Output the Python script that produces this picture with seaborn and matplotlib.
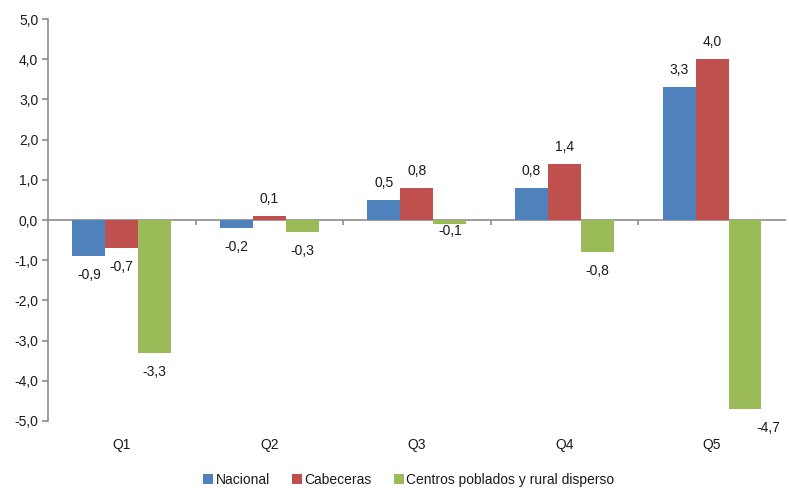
import matplotlib
matplotlib.use("Agg")
import matplotlib.pyplot as plt
import matplotlib.ticker as mticker
from matplotlib.patches import Patch
import seaborn as sns
import pandas as pd

categories = ["Q1", "Q2", "Q3", "Q4", "Q5"]
series_names = ["Nacional", "Cabeceras", "Centros poblados y rural disperso"]
nacional = [-0.9, -0.2, 0.5, 0.8, 3.3]
cabeceras = [-0.7, 0.1, 0.8, 1.4, 4.0]
rural = [-3.3, -0.3, -0.1, -0.8, -4.7]
yticks = [-5, -4, -3, -2, -1, 0, 1, 2, 3, 4, 5]

colors = ["#4F81BD", "#C0504D", "#9BBB59"]

rows = []
for name, vals in zip(series_names, [nacional, cabeceras, rural]):
    for c, v in zip(categories, vals):
        rows.append({"Quintil": c, "Serie": name, "Valor": v})
df = pd.DataFrame(rows)

sns.set_theme(style="white")
plt.rcParams["font.family"] = ["Liberation Sans", "DejaVu Sans"]
text_color = "#1a1a1a"
axis_color = "#8c8c8c"

fig = plt.figure(figsize=(7.89, 4.88), dpi=100)
ax = fig.add_axes([0.0608, 0.1373, 0.9352, 0.8237])

sns.barplot(data=df, x="Quintil", y="Valor", hue="Serie", order=categories,
            hue_order=series_names, palette=colors, width=0.67, ax=ax,
            saturation=1, legend=False, errorbar=None, linewidth=0)

ax.set_xlim(-0.5, 4.5)
ax.set_ylim(-5, 5)
ax.set_yticks(yticks)
ax.yaxis.set_major_formatter(mticker.FuncFormatter(lambda v, p: f"{v:.1f}".replace(".", ",")))
ax.set_xlabel("")
ax.set_ylabel("")
for s in ["top", "right", "bottom"]:
    ax.spines[s].set_visible(False)
ax.spines["left"].set_color(axis_color)
ax.spines["left"].set_linewidth(1.2)
ax.tick_params(axis="y", direction="out", length=4, color=axis_color, width=1.2,
               labelsize=10, labelcolor=text_color, pad=3, left=True)
ax.tick_params(axis="x", length=0, labelsize=10, labelcolor=text_color, pad=12)
ax.axhline(0, color=axis_color, lw=1.2, zorder=0.5)
bounds = [i + 0.5 for i in range(len(categories) - 1)]
ax.vlines(bounds, -0.12, 0, color=axis_color, lw=1.2)

# data labels
special = {(2, 2): (0, -7), (2, 4): (23, -19)}
for si, cont in enumerate(ax.containers):
    vals = [nacional, cabeceras, rural][si]
    for ci, (bar, v) in enumerate(zip(cont, vals)):
        xc = bar.get_x() + bar.get_width() / 2
        if (si, ci) in special:
            dx, dy = special[(si, ci)]
        else:
            dx, dy = 0, (17 if v >= 0 else -19)
        ax.annotate(f"{v:.1f}".replace(".", ","), (xc, v), xytext=(dx, dy),
                    textcoords="offset pixels", ha="center", va="center",
                    fontsize=10, color=text_color)

handles = [Patch(facecolor=c, edgecolor="none") for c in colors]
fig.legend(handles, series_names, loc="center", bbox_to_anchor=(0.518, 0.017), ncol=3,
           frameon=False, fontsize=10, handlelength=0.7, handleheight=0.7,
           handletextpad=0.2, columnspacing=1.6, labelcolor=text_color)

fig.savefig("out.png", dpi=100)
